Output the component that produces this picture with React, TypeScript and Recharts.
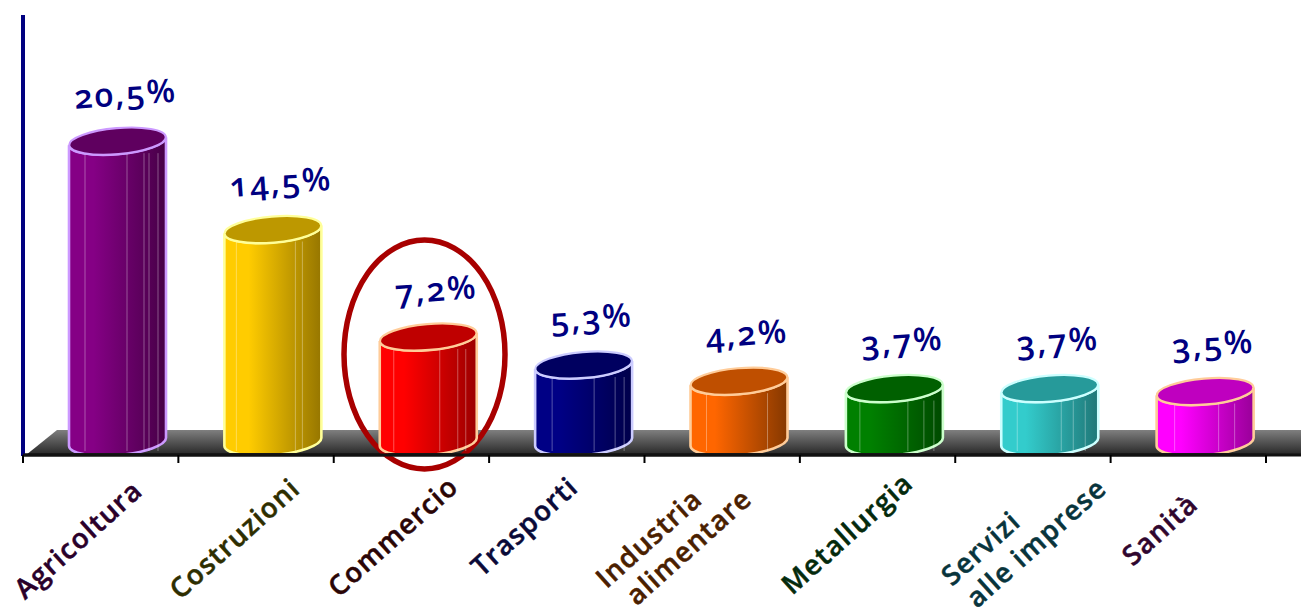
import React from "react";
import { BarChart, Bar, XAxis, YAxis, LabelList, Customized } from "recharts";

const categories = ["Agricoltura", "Costruzioni", "Commercio", "Trasporti", "Industria\nalimentare", "Metallurgia", "Servizi\nalle imprese", "Sanità"];
const shares = [20.5, 14.5, 7.2, 5.3, 4.2, 3.7, 3.7, 3.5];
const shareLabels = ["20,5%", "14,5%", "7,2%", "5,3%", "4,2%", "3,7%", "3,7%", "3,5%"];

const data = categories.map((category, i) => ({ category, share: shares[i], label: shareLabels[i] }));

const W = 1301, H = 611;
const palette = [
  { a: "#850085", b: "#470047", top: "#5f005f", line: "#cc99ff", text: "#2a002a" },
  { a: "#ffcc00", b: "#967600", top: "#bd9800", line: "#ffff99", text: "#2e2e00" },
  { a: "#ff0000", b: "#9c0000", top: "#bf0000", line: "#ffcc99", text: "#2a0505" },
  { a: "#000085", b: "#00004a", top: "#000060", line: "#ccccff", text: "#0a0a38" },
  { a: "#ff6600", b: "#853800", top: "#bf4f00", line: "#ffcc99", text: "#4a2000" },
  { a: "#008000", b: "#004a00", top: "#006000", line: "#ccffcc", text: "#042a0c" },
  { a: "#33cccc", b: "#1f7878", top: "#269a9a", line: "#ccffff", text: "#08343c" },
  { a: "#ff00ff", b: "#990099", top: "#bf00bf", line: "#ffcc99", text: "#30062e" },
];
const ribs = [
  [16, 58, 75, 80, 89], [12, 71, 78], [14, 60, 78, 86], [17, 59, 80, 89],
  [16, 77], [14, 62, 78, 88], [16, 60, 72, 84], [18, 62, 78],
];
const tickPos = [
  { dx: -22, y: 540, along: 0 }, { dx: -21, y: 539, along: 0 }, { dx: -18, y: 537, along: 0 },
  { dx: -42, y: 527, along: 0 }, { dx: -53, y: 543, along: 24 }, { dx: -30, y: 534, along: 0 },
  { dx: -24, y: 546, along: 45 }, { dx: -28, y: 530, along: 0 },
];
const ANGLE = -42;
const FONT = "'Open Sans', sans-serif";

function Cylinder(props: any) {
  const { x, y, width, height, index } = props;
  const c = palette[index];
  const cx = x + width / 2 + 17;
  const l = cx - width / 2, r = cx + width / 2;
  const rx = width / 2, ry = 13, tilt = 4;
  const top = y + 1;
  const bottom = y + height;
  const side = `M${l} ${top + tilt} L${l} ${bottom + tilt} A${rx} ${ry} -5 0 0 ${r} ${bottom - tilt} L${r} ${top - tilt} A${rx} ${ry} -5 0 1 ${l} ${top + tilt} Z`;
  const id = `cyl-${index}`;
  return (
    <g>
      <defs>
        <linearGradient id={id} x1="0" x2="1" y1="0" y2="0">
          <stop offset="0%" stopColor={c.a} />
          <stop offset="25%" stopColor={c.a} />
          <stop offset="100%" stopColor={c.b} />
        </linearGradient>
        <clipPath id={`clip-${index}`}><rect x={l - 4} y={0} width={width + 8} height={453} /></clipPath>
      </defs>
      <g clipPath={`url(#clip-${index})`}>
        <path d={side} fill={`url(#${id})`} stroke={c.line} strokeWidth={2.6} />
        {ribs[index].map((o) => (
          <line key={o} x1={l + o} x2={l + o} y1={top + 12} y2={bottom + 9} stroke="#ffffff" strokeOpacity={0.33} strokeWidth={1} />
        ))}
        <ellipse cx={cx} cy={top} rx={rx} ry={ry} transform={`rotate(-5 ${cx} ${top})`} fill={c.top} stroke={c.line} strokeWidth={2.2} />
      </g>
    </g>
  );
}

function CategoryTick(props: any) {
  const { x, payload, index } = props;
  const band = 155.4;
  const p = tickPos[index];
  const cx = x + p.dx;
  const lines = String(payload.value).split("\n");
  const c = palette[index];
  return (
    <g>
      <line x1={x - band / 2} x2={x - band / 2} y1={455} y2={463} stroke="#000" strokeWidth={2} />
      {index === categories.length - 1 && <line x1={x + band / 2} x2={x + band / 2} y1={455} y2={463} stroke="#000" strokeWidth={2} />}
      <text transform={`rotate(${ANGLE} ${cx} ${p.y})`} textAnchor="middle" fontFamily={FONT} fontSize={27.5} fontWeight={600} letterSpacing={1.2} fill={c.text} stroke={c.text} strokeWidth={0.5}>
        {lines.map((ln, i) => {
          const sign = lines.length === 1 ? 0 : i === 0 ? -1 : 1;
          return <tspan key={i} x={cx + (sign * p.along) / 2} y={p.y + 9 + sign * 16.5}>{ln}</tspan>;
        })}
      </text>
    </g>
  );
}

function ShareLabel(props: any) {
  const { x, y, width, value } = props;
  const cx = x + width / 2 + 25;
  const cy = y - 46;
  return (
    <text x={cx} y={cy + 11} transform={`rotate(-4 ${cx} ${cy})`} textAnchor="middle" fontFamily={FONT} fontSize={33} fontWeight={600} letterSpacing={2} fill="#000080" style={{ fontFeatureSettings: '"onum"' }}>
      {value}
    </text>
  );
}

function Floor() {
  return (
    <g>
      <defs>
        <linearGradient id="floor" x1="0" x2="0" y1="0" y2="1">
          <stop offset="0%" stopColor="#7f7f7f" />
          <stop offset="100%" stopColor="#262626" />
        </linearGradient>
      </defs>
      <polygon points={`26,455 57,430 ${W},430 ${W},455`} fill="url(#floor)" />
      <line x1={23} x2={W} y1={455} y2={455} stroke="#111" strokeWidth={3} />
      <line x1={23} x2={23} y1={15} y2={456} stroke="#000080" strokeWidth={4} />
    </g>
  );
}

function Highlight() {
  return <ellipse cx={424.5} cy={354.5} rx={80.5} ry={114.5} fill="none" stroke="#a80000" strokeWidth={5.5} />;
}

export default function App() {
  return (
    <div style={{ position: "absolute", left: 0, top: 0, width: W, height: H, background: "#fff", overflow: "hidden" }}>
      <BarChart width={W} height={H} data={data} margin={{ top: 15, right: 35, bottom: 0, left: 23 }} barCategoryGap={0} barSize={97}>
        <Customized component={Floor} />
        <XAxis dataKey="category" height={156} interval={0} axisLine={{ stroke: "#111", strokeWidth: 3 }} tickLine={false} tick={<CategoryTick />} />
        <YAxis width={0} domain={[-0.88, 29]} allowDataOverflow tick={false} tickLine={false} axisLine={false} />
        <Bar dataKey="share" isAnimationActive={false} shape={<Cylinder />}>
          <LabelList dataKey="label" content={<ShareLabel />} />
        </Bar>
        <Customized component={Highlight} />
      </BarChart>
    </div>
  );
}
